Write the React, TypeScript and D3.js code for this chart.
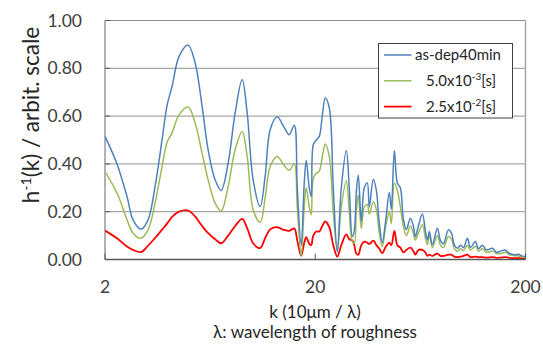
import React from "react";
import * as d3 from "d3";

const kValues = [2.000, 2.281, 2.546, 2.719, 2.967, 3.205, 3.460, 3.736, 3.947, 4.170, 4.503, 4.970, 5.365, 5.793, 6.188, 6.681, 7.136, 7.704, 8.318, 8.981, 9.491, 10.13, 10.94, 11.56, 12.21, 13.19, 14.08, 15.04, 15.89, 16.42, 17.15, 17.73, 18.12, 18.73, 19.14, 19.57, 20.22, 20.90, 21.60, 22.32, 23.32, 24.36, 25.46, 26.60, 28.10, 29.03, 30.01, 30.67, 31.35, 32.04, 33.12, 34.23, 35.37, 36.15, 37.78, 39.04, 40.34, 41.69, 43.09, 45.02, 46.02, 47.56, 49.15, 50.79, 52.49, 54.24, 56.68, 58.58, 59.87, 61.87, 64.65, 66.81, 68.29, 69.80, 72.14, 76.20, 78.75, 81.39, 85.98, 88.86, 91.84, 94.91, 98.09, 101.4, 105.9, 109.4, 115.6, 119.5, 124.8, 130.4, 139.3, 145.6, 152.1, 160.6, 167.8, 177.3, 185.2, 193.5, 200.0];

const asDep40min = [0.515, 0.400, 0.263, 0.166, 0.127, 0.166, 0.305, 0.501, 0.645, 0.725, 0.850, 0.897, 0.823, 0.641, 0.459, 0.333, 0.289, 0.403, 0.613, 0.753, 0.613, 0.333, 0.222, 0.350, 0.543, 0.597, 0.560, 0.522, 0.562, 0.300, 0.060, 0.320, 0.414, 0.300, 0.263, 0.480, 0.500, 0.515, 0.600, 0.676, 0.635, 0.300, 0.030, 0.300, 0.456, 0.300, 0.096, 0.120, 0.280, 0.354, 0.160, 0.300, 0.320, 0.220, 0.336, 0.290, 0.150, 0.070, 0.150, 0.280, 0.210, 0.456, 0.320, 0.300, 0.170, 0.125, 0.173, 0.140, 0.096, 0.140, 0.190, 0.120, 0.082, 0.117, 0.062, 0.131, 0.080, 0.065, 0.124, 0.110, 0.060, 0.047, 0.060, 0.050, 0.089, 0.050, 0.075, 0.045, 0.060, 0.040, 0.047, 0.030, 0.035, 0.040, 0.025, 0.020, 0.022, 0.014, 0.012];

const t5e3 = [0.368, 0.278, 0.166, 0.110, 0.089, 0.124, 0.236, 0.389, 0.490, 0.530, 0.606, 0.638, 0.571, 0.445, 0.333, 0.236, 0.203, 0.305, 0.459, 0.536, 0.431, 0.208, 0.155, 0.260, 0.389, 0.431, 0.400, 0.373, 0.400, 0.220, 0.014, 0.220, 0.300, 0.220, 0.187, 0.340, 0.360, 0.370, 0.430, 0.483, 0.430, 0.200, 0.035, 0.220, 0.330, 0.200, 0.075, 0.068, 0.200, 0.270, 0.130, 0.220, 0.230, 0.190, 0.242, 0.210, 0.110, 0.054, 0.130, 0.200, 0.150, 0.320, 0.290, 0.220, 0.140, 0.100, 0.140, 0.110, 0.082, 0.110, 0.145, 0.090, 0.062, 0.100, 0.050, 0.100, 0.060, 0.050, 0.096, 0.085, 0.045, 0.035, 0.045, 0.038, 0.060, 0.040, 0.055, 0.035, 0.045, 0.030, 0.035, 0.025, 0.025, 0.030, 0.020, 0.016, 0.015, 0.010, 0.008];

const t25e2 = [0.121, 0.089, 0.054, 0.040, 0.031, 0.058, 0.090, 0.125, 0.150, 0.178, 0.200, 0.205, 0.180, 0.140, 0.110, 0.085, 0.068, 0.100, 0.140, 0.170, 0.131, 0.068, 0.048, 0.090, 0.126, 0.135, 0.125, 0.120, 0.130, 0.080, 0.016, 0.070, 0.094, 0.065, 0.060, 0.100, 0.117, 0.117, 0.140, 0.159, 0.135, 0.060, 0.012, 0.060, 0.105, 0.085, 0.080, 0.060, 0.025, 0.020, 0.060, 0.075, 0.070, 0.065, 0.079, 0.060, 0.045, 0.026, 0.050, 0.070, 0.060, 0.120, 0.060, 0.050, 0.030, 0.040, 0.050, 0.035, 0.020, 0.040, 0.040, 0.030, 0.015, 0.020, 0.015, 0.025, 0.015, 0.015, 0.020, 0.020, 0.012, 0.010, 0.012, 0.015, 0.020, 0.010, 0.012, 0.010, 0.010, 0.008, 0.010, 0.007, 0.008, 0.010, 0.007, 0.006, 0.006, 0.005, 0.005];

const yTicks = [0, 0.2, 0.4, 0.6, 0.8, 1.0];
const xTicks = [2, 20, 200];

const seriesNames = ["as-dep40min", "5.0x10", "2.5x10"];
const seriesSup = ["", "-3", "-2"];
const seriesSuffix = ["", "[s]", "[s]"];
const seriesColors = ["#4F81BD", "#9BBB59", "#FF0000"];
const seriesData = [asDep40min, t5e3, t25e2];

const W = 543, H = 347;
const L = 105, R = 525.5, T = 20.5, B = 259.5;
const FONT = "Lato, 'Open Sans', sans-serif";

export default function App() {
  const x = d3.scaleLog().domain([2, 200]).range([L, R]);
  const y = d3.scaleLinear().domain([0, 1]).range([B, T]);
  const line = d3
    .line<[number, number]>()
    .x((d) => x(d[0]))
    .y((d) => y(d[1]))
    .curve(d3.curveCatmullRom.alpha(0.5));

  const order = [2, 1, 0];

  return (
    <svg width={W} height={H} style={{ position: "absolute", left: 0, top: 0, background: "#fff" }} fontFamily={FONT}>
      <defs>
        <clipPath id="plotclip">
          <rect x={L} y={T - 2} width={R - L + 1} height={B - T + 3} />
        </clipPath>
      </defs>
      {/* gridlines */}
      {yTicks.slice(1, 5).map((t) => (
        <line key={t} x1={L} x2={R} y1={y(t)} y2={y(t)} stroke="#a6a6a6" strokeWidth={1.2} />
      ))}
      {/* plot border */}
      <line x1={L} x2={R} y1={T} y2={T} stroke="#8c8c8c" strokeWidth={1.2} />
      <line x1={R} x2={R} y1={T} y2={B} stroke="#a6a6a6" strokeWidth={1.5} />
      <line x1={L} x2={L} y1={T} y2={B} stroke="#7f7f7f" strokeWidth={1.2} />
      {/* y ticks inside */}
      {yTicks.map((t) => (
        <line key={"yt" + t} x1={L} x2={L + 5} y1={y(t)} y2={y(t)} stroke="#595959" strokeWidth={1} />
      ))}
      {/* series */}
      <g clipPath="url(#plotclip)">
        {order.map((i) => (
          <path
            key={i}
            d={line(kValues.map((k, j) => [k, seriesData[i][j]] as [number, number])) || ""}
            fill="none"
            stroke={seriesColors[i]}
            strokeWidth={i === 2 ? 1.8 : 1.5}
            strokeLinejoin="round"
          />
        ))}
      </g>
      {/* x axis */}
      <line x1={L} x2={R} y1={B} y2={B} stroke="#595959" strokeWidth={1.3} />
      {xTicks.map((t) => (
        <line key={"xt" + t} x1={x(t)} x2={x(t)} y1={B} y2={B - 6} stroke="#595959" strokeWidth={1} />
      ))}
      {/* y tick labels */}
      {yTicks.map((t) => (
        <text key={"yl" + t} x={82} y={y(t) + 6} textAnchor="end" fontSize={17.5} fill="#404040">
          {t.toFixed(2)}
        </text>
      ))}
      {/* x tick labels */}
      {xTicks.map((t) => (
        <text key={"xl" + t} x={x(t)} y={293} textAnchor="middle" fontSize={17.5} fill="#404040">
          {String(t)}
        </text>
      ))}
      {/* axis titles */}
      <text x={315} y={318} textAnchor="middle" fontSize={17} fill="#262626">
        k (10μm / λ)
      </text>
      <text x={315} y={338} textAnchor="middle" fontSize={17} fill="#262626">
        λ: wavelength of roughness
      </text>
      <text transform="translate(39,115) rotate(-90)" textAnchor="middle" fontSize={22.5} fill="#262626">
        h<tspan fontSize={14} dy={-8}>-1</tspan>
        <tspan dy={8}>(k) / arbit. scale</tspan>
      </text>
      {/* legend */}
      <rect x={378.5} y={43.5} width={134} height={74.5} fill="#fff" stroke="#404040" strokeWidth={1} />
      {[0, 1, 2].map((i) => {
        const ly = 55 + i * 25.8;
        return (
          <g key={"lg" + i}>
            <line x1={384} x2={411.5} y1={ly} y2={ly} stroke={seriesColors[i]} strokeWidth={i === 2 ? 1.8 : 1.5} />
            <text x={i === 0 ? 415 : 426} y={ly + 5} fontSize={15} fill="#262626">
              {seriesNames[i]}
              {seriesSup[i] ? (
                <>
                  <tspan fontSize={10} dy={-6}>{seriesSup[i]}</tspan>
                  <tspan dy={6}>{seriesSuffix[i]}</tspan>
                </>
              ) : null}
            </text>
          </g>
        );
      })}
    </svg>
  );
}
